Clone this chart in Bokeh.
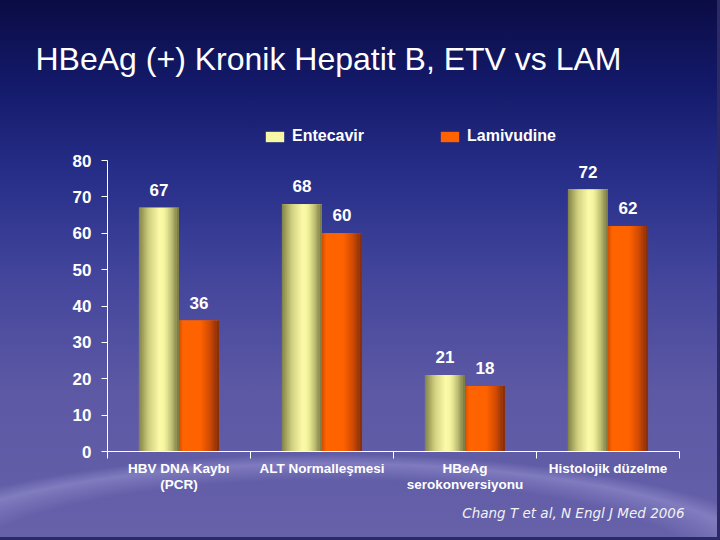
from bokeh.plotting import figure
from bokeh.models import (Range1d, FixedTicker, CustomJSTickFormatter,
                          ColumnDataSource, Legend, LegendItem, Title)
from bokeh.transform import dodge
from bokeh.embed import file_html
from bokeh.resources import INLINE
from bokeh.core.properties import value

# ---- data ----
categories = ["HBV DNA Kaybı\n(PCR)", "ALT Normalleşmesi", "HBeAg\nserokonversiyonu", "Histolojik düzelme"]
entecavir = [67, 68, 21, 72]
lamivudine = [36, 60, 18, 62]
series_names = ["Entecavir", "Lamivudine"]
y_ticks = [0, 10, 20, 30, 40, 50, 60, 70, 80]
y_axis_max = 80
title_text = "HBeAg (+) Kronik Hepatit B,  ETV vs LAM"
citation_text = "Chang T et al, N Engl J Med 2006"

FONT = value("Liberation Sans")
n = len(categories)
centers = [i + 0.5 for i in range(n)]

src = ColumnDataSource(dict(
    xc=centers,
    ent=entecavir,
    lam=lamivudine,
    ent_lbl=[str(v) for v in entecavir],
    lam_lbl=[str(v) for v in lamivudine],
))

# frame: left 107, right 679, top 114, bottom 451; the axis is bounded to 0..80,
# the headroom above it holds the legend
FRAME_TOP, FRAME_BOTTOM, AXIS_TOP = 114, 451, 160
y_top = y_axis_max * (FRAME_BOTTOM - FRAME_TOP) / (FRAME_BOTTOM - AXIS_TOP)

p = figure(width=720, height=540,
           x_range=Range1d(0, n), y_range=Range1d(0, y_top),
           output_backend="svg", toolbar_location=None,
           min_border_left=107, min_border_right=41, min_border_top=FRAME_TOP,
           min_border_bottom=540 - FRAME_BOTTOM,
           background_fill_alpha=0, border_fill_alpha=0, outline_line_color=None)

p.styles = {
    "background": (
        "radial-gradient(ellipse 480px 118px at 330px 572px, "
        "rgba(190,185,240,0) 0%, rgba(190,185,240,0) 78%, rgba(190,185,240,0.33) 92%, rgba(190,185,240,0) 100%), "
        "linear-gradient(to bottom, #0b0c44 0%, #131968 15%, #262e88 32%, #44469c 52%, #5c58a4 72%, #6661a9 100%)"
    ),
    "box-shadow": "inset -3px -3px 0 0 #2c2a66",
}
p.xgrid.grid_line_color = None
p.ygrid.grid_line_color = None

# ---- title (above) ----
p.title = Title(text=title_text, align="left", offset=-72, standoff=75,
                text_color="white", text_font="Liberation Sans",
                text_font_size="32px", text_font_style="normal")

# ---- y axis ----
p.yaxis.ticker = FixedTicker(ticks=y_ticks)
p.yaxis.bounds = (0, y_axis_max)
p.yaxis.axis_line_color = "white"
p.yaxis.major_tick_line_color = "white"
p.yaxis.major_tick_out = 6
p.yaxis.major_tick_in = 0
p.yaxis.minor_tick_line_color = None
p.yaxis.major_label_text_color = "white"
p.yaxis.major_label_text_font = "Liberation Sans"
p.yaxis.major_label_text_font_style = "bold"
p.yaxis.major_label_text_font_size = "17px"
p.yaxis.major_label_standoff = 10

# ---- x axis: labels at category centres, ticks at category boundaries ----
xa = p.xaxis[0]
xa.ticker = FixedTicker(ticks=centers, minor_ticks=list(range(n + 1)))
xa.formatter = CustomJSTickFormatter(args=dict(labels=categories),
                                     code="return labels[Math.floor(tick)];")
xa.axis_line_color = "white"
xa.major_tick_line_color = None
xa.major_tick_out = 0
xa.major_tick_in = 0
xa.minor_tick_line_color = "white"
xa.minor_tick_out = 7
xa.minor_tick_in = 0
xa.major_label_standoff = 2
xa.major_label_text_color = "white"
xa.major_label_text_font = "Liberation Sans"
xa.major_label_text_font_style = "bold"
xa.major_label_text_font_size = "13.5px"
xa.major_label_text_line_height = 1.1

# ---- bars with cylindrical shading ----
def interp(stops, t):
    for (t0, c0), (t1, c1) in zip(stops[:-1], stops[1:]):
        if t0 <= t <= t1:
            f = (t - t0) / (t1 - t0) if t1 > t0 else 0
            return "#%02x%02x%02x" % tuple(int(round(a + (b - a) * f)) for a, b in zip(c0, c1))
    return "#%02x%02x%02x" % stops[-1][1]

yellow_stops = [(0.0, (125, 125, 68)), (0.25, (205, 205, 125)), (0.52, (250, 250, 168)),
                (0.65, (246, 246, 160)), (0.82, (195, 195, 118)), (1.0, (115, 115, 65))]
orange_stops = [(0.0, (205, 75, 0)), (0.12, (255, 100, 0)), (0.55, (255, 98, 0)),
                (0.8, (205, 72, 5)), (1.0, (125, 45, 12))]

BAR_W = 0.28
OFFSETS = [-0.14, 0.14]
K = 20
legend_renderers = []
for col, off, stops in (("ent", OFFSETS[0], yellow_stops), ("lam", OFFSETS[1], orange_stops)):
    base = p.vbar(x=dodge("xc", off), top=col, bottom=0, width=BAR_W,
                  source=src, fill_color=interp(stops, 0.5), line_color=None)
    legend_renderers.append(base)
    sw = BAR_W / K
    for k in range(K):
        t = (k + 0.5) / K
        o = off - BAR_W / 2 + (k + 0.5) * sw
        w = sw * 1.6 if 0 < k < K - 1 else sw
        p.vbar(x=dodge("xc", o), top=col, bottom=0, width=w,
               source=src, fill_color=interp(stops, t), line_color=None)

# ---- value labels ----
for lbl, col, off in (("ent_lbl", "ent", OFFSETS[0]), ("lam_lbl", "lam", OFFSETS[1])):
    p.text(x=dodge("xc", off), y=col, text=lbl, source=src,
           text_align="center", text_baseline="bottom", y_offset=-12,
           text_font=FONT, text_font_style="bold", text_font_size="17px", text_color="white")

# ---- legend (inside the frame headroom) ----
legend = Legend(items=[LegendItem(label=series_names[0], renderers=[legend_renderers[0]]),
                       LegendItem(label=series_names[1], renderers=[legend_renderers[1]])],
                orientation="horizontal", location=(156, 306),
                border_line_color=None, background_fill_alpha=0, padding=0, margin=0,
                spacing=6, label_standoff=6, glyph_width=23, glyph_height=13,
                label_width=140, label_height=16,
                label_text_color="white", label_text_font="Liberation Sans",
                label_text_font_style="bold", label_text_font_size="16px")
p.add_layout(legend, "center")

# ---- citation (below the axis) ----
p.add_layout(Title(text=citation_text, align="right", offset=-5, standoff=15,
                   text_color="#f2f2f2", text_font="DejaVu Sans", text_font_style="italic",
                   text_font_size="13.5px"), "below")

open("out.html", "w").write(file_html(p, INLINE))
